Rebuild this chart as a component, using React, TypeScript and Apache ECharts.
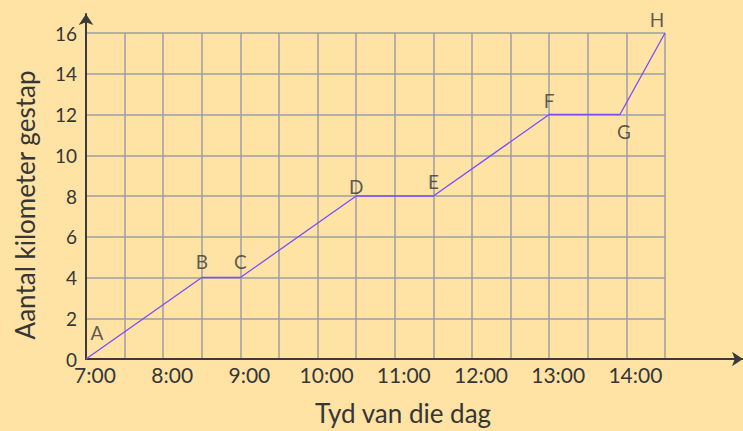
import React, { useEffect, useRef } from "react";
import * as echarts from "echarts";

const pointNames = ["A", "B", "C", "D", "E", "F", "G", "H"];
const timeLabels = ["7:00", "8:30", "9:00", "10:30", "11:30", "13:00", "13:55", "14:30"];
const distanceKm = [0, 4, 4, 8, 8, 12, 12, 16];
const labelOffsets = [[11, -27], [0, -16], [0, -16], [0, -10], [0, -15], [0, -14], [4, 17], [-8, -14]];

const xTitle = "Tyd van die dag";
const yTitle = "Aantal kilometer gestap";

const toMin = (s: string) => {
  const [h, m] = s.split(":").map(Number);
  return h * 60 + m;
};

const FONT = "Lato";
const TEXT = "#363636";
const AXIS = "#3a3a3a";
const GRIDC = "#9c9ea4";
const BG = "#fee3a5";

export default function App() {
  const ref = useRef<HTMLDivElement>(null);
  useEffect(() => {
    if (!ref.current) return;
    const chart = echarts.init(ref.current, undefined, { renderer: "svg" });
    const pts = timeLabels.map((t, i) => [toMin(t), distanceKm[i]]);
    chart.setOption({
      animation: false,
      backgroundColor: BG,
      grid: [
        { left: 86, right: 78, top: 33, bottom: 72 },
        { left: 86, right: 0, top: 14, bottom: 72 },
      ],
      xAxis: [
        {
          type: "value",
          gridIndex: 0,
          min: 420,
          max: 870,
          interval: 30,
          axisLine: { show: false },
          axisTick: { show: false },
          splitLine: { show: true, lineStyle: { color: GRIDC, width: 1.5 } },
          axisLabel: {
            color: TEXT,
            fontFamily: FONT,
            fontSize: 21,
            margin: 5,
            padding: [0, 0, 0, 18],
            showMaxLabel: true,
            formatter: (v: number) => (v % 60 === 0 ? `${Math.floor(v / 60)}:00` : ""),
          },
        },
        {
          type: "value",
          gridIndex: 1,
          min: 0,
          max: 1,
          axisLine: { show: true, symbol: ["none", "arrow"], symbolSize: [11, 11], lineStyle: { color: AXIS, width: 2 } },
          axisTick: { show: false },
          axisLabel: { show: false },
          splitLine: { show: false },
        },
      ],
      yAxis: [
        {
          type: "value",
          gridIndex: 0,
          min: 0,
          max: 16,
          interval: 2,
          axisLine: { show: false },
          axisTick: { show: false },
          splitLine: { show: true, lineStyle: { color: GRIDC, width: 1.5 } },
          axisLabel: { color: TEXT, fontFamily: FONT, fontSize: 19, margin: 9 },
        },
        {
          type: "value",
          gridIndex: 1,
          min: 0,
          max: 1,
          axisLine: { show: true, symbol: ["none", "arrow"], symbolSize: [11, 11], lineStyle: { color: AXIS, width: 2 } },
          axisTick: { show: false },
          axisLabel: { show: false },
          splitLine: { show: false },
        },
      ],
      graphic: [
        {
          type: "text",
          x: 403,
          y: 413,
          style: { text: xTitle, fill: TEXT, font: `26px ${FONT}`, textAlign: "center", textVerticalAlign: "middle" },
        },
        {
          type: "text",
          x: 25,
          y: 205,
          rotation: Math.PI / 2,
          style: { text: yTitle, fill: TEXT, font: `26px ${FONT}`, textAlign: "center", textVerticalAlign: "middle" },
        },
      ],
      series: [
        {
          type: "line",
          xAxisIndex: 0,
          yAxisIndex: 0,
          data: pts,
          showSymbol: false,
          symbol: "none",
          lineStyle: { color: "#7a4dff", width: 1.3 },
          z: 5,
        },
        {
          type: "scatter",
          xAxisIndex: 0,
          yAxisIndex: 0,
          symbolSize: 1,
          itemStyle: { color: "rgba(0,0,0,0)" },
          data: pts.map((p, i) => ({
            name: pointNames[i],
            value: p,
            label: { offset: labelOffsets[i] },
          })),
          label: {
            show: true,
            position: "inside",
            formatter: (p: any) => p.name,
            color: TEXT,
            fontFamily: FONT,
            fontSize: 19,
          },
          z: 6,
        },
      ],
    });
    return () => chart.dispose();
  }, []);
  return <div ref={ref} style={{ position: "fixed", left: 0, top: 0, width: 743, height: 431 }} />;
}
